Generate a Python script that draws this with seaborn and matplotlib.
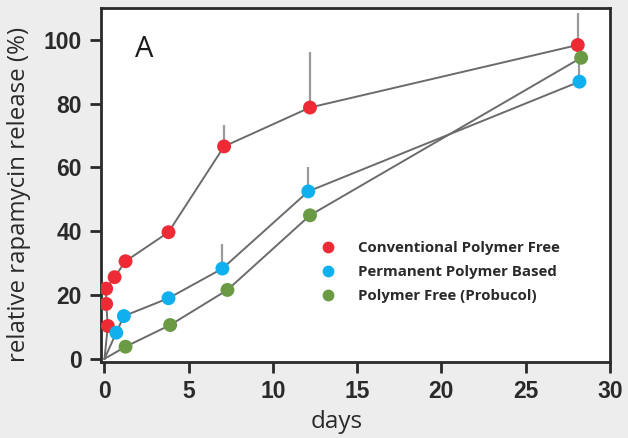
import matplotlib
matplotlib.use("Agg")
import matplotlib.pyplot as plt
import seaborn as sns
import pandas as pd

series_names = ["Conventional Polymer Free", "Permanent Polymer Based", "Polymer Free (Probucol)"]
colors = ["#ee2a35", "#10b0ee", "#6a9a44"]

red_days = [0.2, 0.1, 0.1, 0.6, 1.25, 3.8, 7.1, 12.2, 28.1]
red_vals = [10.3, 17.2, 22.0, 25.6, 30.6, 39.7, 66.6, 78.8, 98.4]
blue_days = [0.7, 1.15, 3.8, 7.0, 12.1, 28.2]
blue_vals = [8.2, 13.4, 19.0, 28.3, 52.5, 86.9]
green_days = [1.25, 3.9, 7.3, 12.2, 28.3]
green_vals = [3.8, 10.6, 21.6, 45.0, 94.4]

# upper error bars (top value) for selected points
err_days = [7.1, 12.2, 28.1, 7.0, 12.1, 28.2]
err_low = [66.6, 78.8, 98.4, 28.3, 52.5, 86.9]
err_high = [73.4, 96.2, 108.4, 35.9, 60.0, 94.4]

x_ticks = [0, 5, 10, 15, 20, 25, 30]
y_ticks = [0, 20, 40, 60, 80, 100]

frames = []
for name, d, v in zip(series_names, [red_days, blue_days, green_days], [red_vals, blue_vals, green_vals]):
    frames.append(pd.DataFrame({"days": d, "release": v, "series": name}))
df = pd.concat(frames, ignore_index=True)

fig = plt.figure(figsize=(6.28, 4.38), dpi=100, facecolor="#ededed")
ax = fig.add_axes([0.161, 0.1735, 0.81, 0.8082])
ax.set_facecolor("white")

# lines starting at origin
for name, d, v in zip(series_names, [red_days, blue_days, green_days], [red_vals, blue_vals, green_vals]):
    ldf = pd.DataFrame({"days": [0] + d, "release": [0] + v})
    sns.lineplot(data=ldf, x="days", y="release", sort=False, estimator=None,
                 color="#6b6b6b", linewidth=1.4, ax=ax, zorder=2)

ax.vlines(err_days, err_low, err_high, color="#9a9a9a", linewidth=1.6, zorder=1)

sns.scatterplot(data=df, x="days", y="release", hue="series", hue_order=series_names,
                palette=colors, s=100, linewidth=0, ax=ax, zorder=3)

ax.set_xlim(-0.2, 30)
ax.set_ylim(-1, 110)
ax.set_xticks(x_ticks)
ax.set_yticks(y_ticks)
ax.set_xticklabels([str(t) for t in x_ticks], fontsize=16.5, fontweight="bold", family="Liberation Sans", color="#2a2a2a")
ax.set_yticklabels([str(t) for t in y_ticks], fontsize=16.5, fontweight="bold", family="Liberation Sans", color="#2a2a2a")
ax.tick_params(axis="both", direction="out", length=8, width=2, color="#2a2a2a", pad=6)
ax.tick_params(axis="x", pad=5)
for sp in ax.spines.values():
    sp.set_linewidth(2)
    sp.set_color("#2a2a2a")

ax.set_xlabel("days", fontsize=17.5, family="Open Sans", color="#2a2a2a")
ax.xaxis.label.set_va("baseline")
ax.xaxis.set_label_coords(0.464, -0.186)
ax.set_ylabel("relative rapamycin release (%)", fontsize=17.3, family="Open Sans", color="#2a2a2a")
ax.yaxis.set_label_coords(-0.137, 0.472)

ax.text(0.067, 0.924, "A", transform=ax.transAxes, fontsize=21, family="Open Sans", color="#1a1a1a", va="top")

leg = ax.legend(loc="upper left", bbox_to_anchor=(0.39, 0.38), frameon=False,
                handletextpad=1.0, labelspacing=0.68, markerscale=0.85,
                prop={"family": "Open Sans", "weight": "bold", "size": 10.8})
for t in leg.get_texts():
    t.set_color("#2a2a2a")

fig.savefig("out.png", dpi=100, facecolor=fig.get_facecolor())
